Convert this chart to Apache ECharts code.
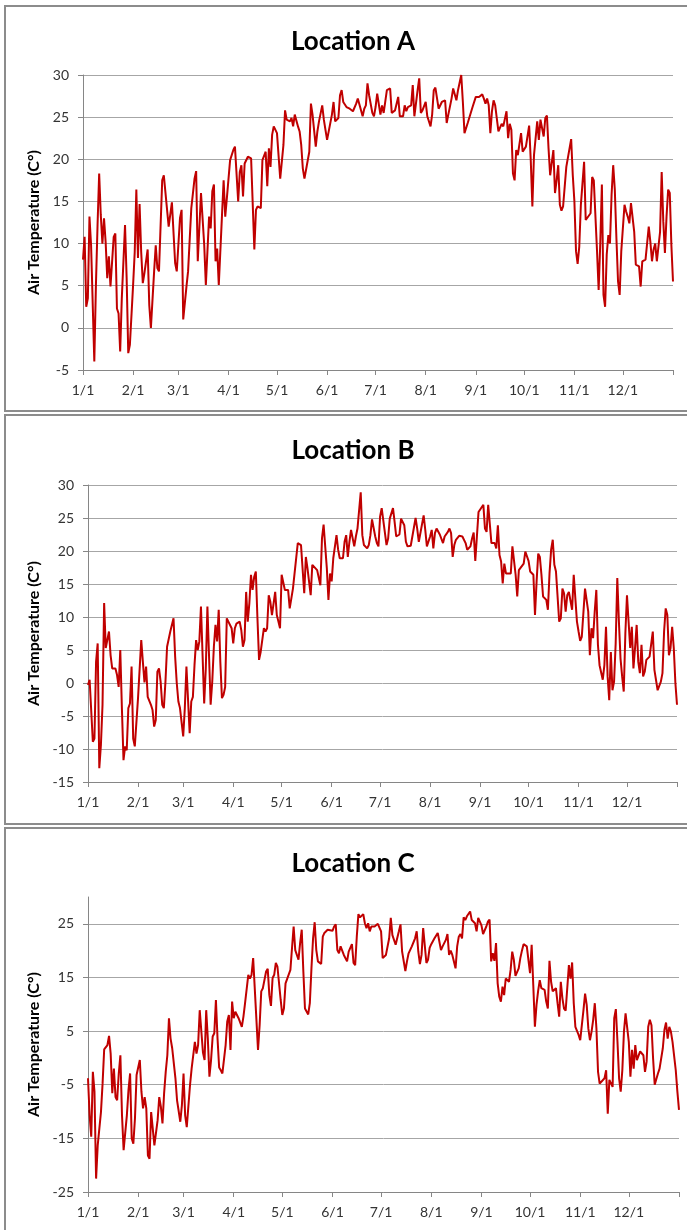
<!DOCTYPE html>
<html><head><meta charset="utf-8">
<script src="https://cdn.jsdelivr.net/npm/echarts@6/dist/echarts.min.js"></script>
<style>html,body{margin:0;padding:0;background:#fff}#c{width:687px;height:1230px}</style>
</head><body><div id="c"></div>
<script>
const monthLengths = [31,28,31,30,31,30,31,31,30,31,30,31];
const titles = ['Location A', 'Location B', 'Location C'];
const yAxisName = 'Air Temperature (C°)';
const yRanges = [[-5, 30, 5], [-15, 30, 5], [-25, 30, 10]];

// [day of year index, air temperature °C]
const locationA = [[0,8.1],[1,10.8],[2,2.5],[3,3.5],[4,13.2],[5,9.8],[7,-4],[8,5.1],[9,12.2],[10,18.3],[11,13.4],[12,10],[13,13],[14,10.2],[15,5.9],[16,8.5],[17,4.9],[19,10.8],[20,11.2],[21,2.3],[22,1.7],[23,-2.8],[24,3.5],[26,12.2],[27,5.9],[28,-3],[29,-2],[31,5.1],[32,9],[33,16.4],[34,8.3],[35,14.7],[36,9],[37,5.3],[38,6.5],[40,9.3],[41,2.7],[42,0],[44,6.7],[45,9.8],[46,7.1],[47,6.7],[49,17.5],[50,18.1],[51,17.9],[53,12],[54,11.8],[55,14.9],[57,7.7],[58,6.7],[59,6.7],[60,13],[61,14],[62,1],[64,4.9],[65,6.7],[67,14.2],[69,17.7],[70,18.6],[71,7.9],[72,7.9],[73,16],[75,9.8],[76,5.1],[78,13.2],[79,11.8],[80,16.2],[81,17],[82,7.9],[83,9.4],[84,5.1],[86,13.4],[87,17.5],[88,13.2],[89,15.4],[91,19.9],[93,21.1],[94,21.5],[96,15],[97,18.5],[98,19.3],[99,15.6],[100,19.5],[101,19.7],[102,20.3],[104,20.1],[106,9.3],[107,14],[108,14.4],[110,14.2],[111,19.9],[113,20.9],[114,16.8],[115,21.3],[116,19.1],[117,22.9],[118,23.9],[120,23.1],[121,22.9],[122,17.7],[124,21.7],[125,25.8],[126,24.7],[128,24.5],[129,24.9],[130,23.9],[131,25.3],[133,23.9],[134,23.3],[135,21.7],[136,18.9],[137,17.7],[138,17.7],[140,20.9],[141,26.6],[142,25.3],[144,21.5],[145,23.3],[146,24.5],[148,26.4],[149,24.7],[150,23.5],[151,22.3],[152,22.3],[154,25.3],[155,26.8],[156,24.5],[158,24.9],[159,27.6],[160,28.2],[161,26.8],[163,26.2],[165,26],[167,25.7],[169,26.6],[170,27.2],[171,27.2],[173,25.1],[174,26],[175,26.4],[176,29],[177,27.6],[179,25.5],[180,25.1],[181,26.2],[182,27.8],[184,25.3],[185,26.4],[186,25.5],[187,25.7],[188,28.2],[190,28.4],[191,25.5],[193,25.8],[194,26],[195,27.4],[196,25.1],[198,25.1],[199,26.4],[200,25.7],[201,26.2],[203,26.4],[204,28.8],[205,25.1],[207,28.2],[208,29.6],[209,25.5],[210,25.8],[212,26.8],[213,25.1],[215,23.9],[216,25.3],[217,28.2],[218,28.5],[220,26],[221,25.8],[222,26.8],[224,27],[225,24.3],[226,25.3],[228,27.2],[229,28.4],[231,27],[232,28.2],[234,30],[235,26.8],[236,23.1],[238,24.3],[239,24.5],[241,26.2],[243,27.4],[244,27.6],[245,27.4],[247,27.7],[248,27.2],[249,26.6],[250,27.2],[251,26.4],[252,23.1],[253,25.7],[254,27],[255,26.4],[257,23.3],[258,23.1],[259,24.2],[260,23.9],[262,25.7],[263,22.5],[264,24.2],[265,23.5],[266,18.3],[267,17.5],[268,21.1],[269,20.5],[271,23.1],[272,20.9],[273,20.9],[274,21.5],[276,24],[277,19.9],[278,14.4],[279,20.5],[281,24.5],[282,22.3],[283,24.7],[285,22.7],[286,24.9],[287,25.2],[288,21.3],[289,18.1],[290,18.3],[291,21.1],[292,16],[293,17.5],[294,19.3],[295,14.6],[296,13.9],[297,14.4],[299,19.1],[300,19.3],[302,22.4],[303,18.1],[304,15],[305,9.1],[306,7.6],[307,9.6],[308,14.6],[310,19.7],[311,12.8],[312,12.6],[314,13.6],[315,17.9],[316,17.5],[317,17.4],[318,9.1],[319,4.5],[320,10],[321,17],[322,3.9],[323,2.5],[324,8.7],[325,11],[326,10],[327,15.8],[328,19.3],[329,16.4],[330,10.6],[331,5.5],[332,3.9],[333,9.1],[335,14.6],[336,13.8],[337,13.2],[338,12.4],[339,14.8],[341,11.4],[342,7.5],[343,7.3],[344,7.3],[345,4.9],[346,7.9],[348,8.1],[349,8.3],[350,12],[351,10.2],[352,7.9],[353,9.3],[354,10],[355,7.9],[356,7.7],[357,11.4],[358,18.5],[359,12.6],[360,8.9],[361,13.2],[362,16.4],[363,16],[364,9.8],[365,5.5]];

const locationB = [[0,-0.3],[1,0.5],[2,0.6],[3,-8.9],[4,-8.4],[5,3.2],[6,6],[7,-12.9],[8,-9.4],[9,-3.3],[10,12.1],[11,5.3],[12,5.3],[13,7.8],[14,4.2],[15,2.2],[17,2.2],[18,1.2],[19,-0.6],[20,5],[21,-3.8],[22,-11.7],[23,-9.6],[24,-10.2],[25,-3.8],[26,-3.1],[27,2.5],[28,-8.4],[29,-9.6],[30,-9.6],[31,-2.3],[33,6.5],[34,3.2],[35,0.1],[36,2.5],[37,-2.1],[38,-1.8],[39,-3.3],[40,-4.1],[41,-6.6],[42,-5.6],[43,1.7],[44,2.2],[45,0.2],[46,-3.3],[47,-3.8],[48,0.2],[49,5.5],[50,5.5],[51,7.8],[53,9.8],[54,4],[55,0],[56,-2.8],[57,-3.8],[59,-8.1],[60,-3.8],[61,2.5],[63,-7.6],[64,-2.8],[65,-2.1],[66,2.7],[67,6.5],[68,5],[69,6.3],[70,11.6],[72,-3.1],[73,2.2],[74,11.6],[76,-3.3],[77,0.2],[78,5.5],[79,8.8],[80,6.3],[81,11.1],[82,3.2],[83,-2.3],[84,-1.8],[85,-0.6],[86,9.8],[87,9.5],[89,8.3],[90,6],[91,8.3],[92,9],[94,9.3],[95,8],[96,5.5],[97,6.5],[98,13.8],[99,9.3],[100,12.1],[101,16.4],[102,14.1],[103,16.1],[104,16.9],[105,9.8],[106,3.5],[107,4.7],[108,5],[109,8.3],[110,7.8],[111,8.3],[112,13.3],[113,12.3],[114,10.3],[116,13.8],[117,10.3],[118,9.3],[119,8.3],[120,16.4],[122,14.1],[123,13.8],[124,14.1],[125,11.3],[126,11.3],[127,14.3],[128,14.3],[130,21.2],[131,20.9],[132,20.9],[134,13.6],[135,19.1],[136,17.4],[138,13.3],[139,17.9],[140,17.6],[142,17.1],[143,16.9],[144,14.8],[145,21.9],[146,24],[148,17.4],[149,12.6],[150,16.6],[151,15.4],[152,18.9],[154,22.4],[155,20.2],[156,18.9],[158,18.9],[159,21.4],[160,22.4],[161,19.1],[162,21.4],[163,23.2],[165,20.7],[166,22.2],[167,23.4],[169,28.9],[170,22.4],[171,20.9],[173,20.4],[174,20.9],[175,22.4],[176,24.8],[178,22.2],[179,21.2],[180,20.7],[181,25.2],[182,26.5],[183,26.6],[185,20.9],[186,21.9],[187,24.9],[189,26.5],[190,24.4],[191,22.2],[193,22.5],[194,24.9],[196,23.9],[197,21.4],[198,20.7],[200,20.8],[201,20.9],[203,25],[204,23.4],[205,21.4],[206,21.7],[208,25.4],[209,23.2],[210,20.7],[211,20.7],[212,22.2],[213,23.2],[214,20.4],[215,22.7],[216,23.4],[218,22.5],[219,22.4],[220,21.2],[221,22.2],[223,22.9],[224,23.4],[225,22.7],[226,19.1],[227,20.9],[228,21.7],[229,21.4],[230,22.3],[232,22.2],[233,22.5],[234,21.2],[235,20.2],[237,20.7],[238,21.9],[239,22.8],[240,18.5],[241,22.2],[242,25.9],[243,26],[245,27],[246,23.4],[247,22.9],[248,27],[250,21.2],[251,20.9],[252,21.2],[253,20.4],[254,23.9],[255,19.4],[256,18.4],[257,15.1],[258,18.1],[259,16.6],[262,16.6],[263,20.7],[265,16.4],[266,13.1],[267,17.1],[268,17.1],[270,18.1],[271,19.9],[273,18.5],[274,16.9],[275,16.6],[276,16.4],[277,10.3],[278,15.4],[279,19.6],[280,19.1],[281,16.4],[282,13.1],[284,12.6],[285,11.1],[286,16.6],[287,20.2],[288,21.7],[289,17.9],[290,16.9],[291,16.9],[292,9.3],[293,9.8],[294,14.3],[295,13.6],[296,10.8],[297,13.3],[298,13.8],[299,13.8],[300,11.1],[301,16.4],[302,16.4],[303,9.3],[304,7.8],[305,6.4],[306,7],[308,14.3],[309,14.1],[310,10.8],[311,4.2],[312,8.3],[313,6.8],[314,10.8],[315,14.1],[316,5.8],[317,2.7],[319,0.5],[320,2.7],[321,8.5],[322,1],[323,-2.6],[324,4.7],[325,-1.1],[326,0.2],[327,6],[328,15.9],[329,9.3],[330,3.7],[331,1],[332,-1.3],[333,7.5],[334,13.3],[336,5.3],[337,8.5],[338,2.2],[339,5.3],[340,8.8],[341,3.2],[342,1.5],[343,5.8],[344,1],[345,1.7],[346,3.5],[348,4],[349,4],[350,7.8],[351,2],[352,1.7],[353,-1.1],[355,0.2],[356,1.5],[357,7.8],[358,11.3],[359,10.3],[360,4.2],[361,5.3],[362,8.5],[363,5.3],[364,0],[365,-3.3]];

const locationC = [[0,-3.8],[1,-10.7],[2,-14.7],[3,-2.6],[4,-6.3],[5,-22.5],[6,-16.3],[8,-10.1],[9,-4.8],[10,1.6],[11,1.8],[12,2.4],[13,4.1],[14,0.8],[15,-6.6],[16,-2],[17,-7.3],[18,-7.9],[19,-2.9],[20,0.5],[21,-10.7],[22,-17.2],[24,-10.7],[25,-6],[26,-2.9],[27,-15],[28,-16],[29,-11.3],[30,-3.2],[31,-3.2],[32,-0.4],[33,-6.3],[34,-9.4],[35,-7.3],[36,-9.4],[37,-18.2],[38,-18.8],[39,-10.1],[40,-10.4],[41,-16.3],[42,-16.3],[43,-11.6],[44,-7.3],[45,-9.1],[46,-12.2],[47,-6.6],[48,-2.6],[49,0.5],[50,7.4],[51,3.6],[52,1.8],[54,-3.8],[55,-7.9],[57,-11.9],[58,-8.8],[59,-2.9],[60,-10.7],[61,-12.9],[63,-5.1],[64,-2],[66,3],[67,0.8],[68,2.4],[69,8.9],[70,9.2],[71,1],[72,-0.4],[73,8.9],[74,3.6],[75,-3.5],[76,-0.4],[77,4],[78,4.6],[79,10.8],[80,3.6],[81,-1.8],[82,-2.3],[83,-2.9],[85,2.4],[86,6.8],[87,8],[88,1.5],[89,10.5],[90,7.4],[91,8.6],[92,8.9],[93,7.4],[95,5.8],[96,7.7],[97,10.2],[98,10.5],[99,15.5],[100,14.8],[101,15.5],[102,18.6],[105,1.5],[106,6.1],[107,12.4],[108,13],[109,13.3],[110,16.1],[111,16.6],[112,11.7],[113,9.7],[114,14.9],[115,15.5],[116,17.7],[117,17],[118,17],[119,10.8],[120,8],[121,9.2],[122,13.9],[123,14.2],[125,16.4],[126,20.5],[127,24.5],[128,20.1],[130,18.3],[131,21.4],[132,23.9],[133,16.1],[134,9.2],[135,9.2],[136,8.1],[137,10.2],[138,16.7],[139,22.3],[140,25.3],[141,20.1],[142,18],[144,17.5],[145,22.6],[146,23.3],[147,23.3],[148,23.9],[149,24.2],[151,23.7],[152,24.5],[153,24.9],[154,20.1],[155,19.5],[156,20.8],[158,19.2],[159,19.2],[160,18],[161,19.8],[163,21.2],[164,17.7],[165,17.3],[166,22.6],[167,26.8],[168,26.2],[170,26.8],[171,25.1],[172,24.2],[173,25.1],[174,23.6],[175,24.5],[176,24.2],[177,24.5],[179,25],[180,24.8],[181,23.6],[182,18.6],[184,19.2],[185,19.2],[186,22.3],[187,26.1],[188,22.9],[190,21.1],[191,20.8],[192,23.6],[193,24.9],[194,19.8],[196,16.2],[197,18],[198,19.5],[199,19.8],[200,20.8],[202,22.3],[203,23.6],[204,19.8],[205,17.5],[206,19.2],[207,24.2],[209,17.7],[210,18.3],[211,20.5],[212,21.2],[213,21.4],[214,22.3],[216,23.3],[217,21.7],[218,20.1],[219,20.8],[221,22],[222,23.1],[223,19.2],[224,20],[225,19.2],[226,19.5],[227,16.7],[228,20.8],[229,22.6],[230,23.1],[231,22.3],[232,26.2],[233,25.7],[234,26.4],[235,26.1],[236,27.3],[237,25.7],[239,25.1],[240,23.6],[241,26.1],[242,25.4],[243,24.7],[244,23.1],[245,23],[246,24.5],[247,25.4],[248,25.8],[249,18],[250,19.5],[251,18.1],[252,21.4],[253,13.9],[254,11.4],[255,10.5],[256,13.3],[257,11.7],[258,14.8],[260,14.2],[261,16.4],[262,19.8],[263,18.3],[264,15.3],[266,16.7],[267,18.6],[268,20],[269,21.2],[271,20.8],[272,20.8],[273,15.8],[274,21.1],[275,13.6],[276,5.8],[277,9.9],[278,12.5],[279,14.5],[280,13],[282,12.7],[283,10.5],[284,9.2],[285,18.1],[286,14.2],[287,12.4],[289,13],[290,10.2],[291,7.7],[292,14.2],[293,11.1],[294,9.2],[295,8.8],[296,8.6],[297,17.3],[298,14.8],[299,17.8],[300,10.2],[301,5.8],[302,5.8],[303,4.3],[304,3.3],[305,3.6],[306,8.9],[307,12],[308,9.9],[309,5.5],[310,3.3],[311,4.9],[312,7.1],[313,10.2],[314,5.5],[315,-2.6],[316,-4.8],[317,-5.1],[319,-3.8],[320,-2.3],[321,-10.4],[322,-4.1],[323,-4.1],[324,-5.4],[325,7.4],[326,9.1],[327,3],[328,-3.8],[329,-6.3],[330,-2.3],[331,4.9],[332,8.3],[334,3],[335,-3.5],[336,1.5],[337,-2],[338,2.4],[339,-0.4],[340,-0.7],[341,1.2],[342,1.2],[343,0.5],[344,-2.6],[345,-0.7],[346,5.8],[347,7.1],[348,6.1],[349,-0.1],[350,-5],[352,-2.9],[353,-2],[354,-1.8],[355,1.8],[356,5.2],[357,6.6],[358,3.6],[359,5.8],[360,4.9],[361,3],[363,-2.3],[364,-6.3],[365,-9.7]];

const seriesData = [locationA, locationB, locationC];

// daily category labels m/d, plus the closing 1/1 boundary
const dayLabels = [];
monthLengths.forEach((n, m) => { for (let d = 1; d <= n; d++) dayLabels.push((m + 1) + '/' + d); });
dayLabels.push('1/1');
const lastIdx = dayLabels.length - 1;

const grids = [
  { left: 83, top: 75, width: 590, height: 295 },
  { left: 88, top: 485, width: 589, height: 297 },
  { left: 88, top: 897, width: 591, height: 295 }
];
const titleTops = [24, 433, 846];
const frames = [[5, 6, 405], [5, 415, 409], [5, 828, 420]];

const font = 'Lato, "Open Sans", sans-serif';
const chart = echarts.init(document.getElementById('c'), null, { renderer: 'canvas' });

const option = {
  animation: false,
  backgroundColor: '#fff',
  title: titles.map((t, i) => ({
    text: t, left: 348, top: titleTops[i], textAlign: 'center',
    textStyle: { fontFamily: font, fontWeight: 'bold', fontSize: 26, color: '#000' }
  })),
  graphic: frames.map(f => ({
    type: 'rect', shape: { x: f[0], y: f[1], width: 700, height: f[2] },
    style: { fill: 'none', stroke: '#8c8c8c', lineWidth: 2 }, silent: true
  })),
  grid: grids,
  xAxis: grids.map((g, i) => ({
    type: 'category', gridIndex: i, data: dayLabels, boundaryGap: false,
    axisLine: { onZero: false, lineStyle: { color: '#868686', width: 1 } },
    axisTick: { show: true, length: 5, lineStyle: { color: '#868686' },
      interval: (idx, val) => val.endsWith('/1') },
    axisLabel: { margin: 13, fontFamily: font, fontSize: 14, color: '#333',
      interval: (idx, val) => idx < lastIdx && val.endsWith('/1') },
    splitLine: { show: false }
  })),
  yAxis: grids.map((g, i) => ({
    type: 'value', gridIndex: i, min: yRanges[i][0], max: yRanges[i][1], interval: yRanges[i][2],
    name: yAxisName, nameLocation: 'middle', nameGap: 39,
    nameTextStyle: { fontFamily: font, fontWeight: 'bold', fontSize: 16, color: '#000' },
    axisLine: { show: true, onZero: false, lineStyle: { color: '#868686', width: 1 } },
    axisTick: { show: true, length: 5, lineStyle: { color: '#868686' } },
    axisLabel: { margin: 14, fontFamily: font, fontSize: 14, color: '#333', showMaxLabel: i < 2 },
    splitLine: { show: true, showMaxLine: i < 2, lineStyle: { color: '#a6a6a6', width: 1 } }
  })),
  series: seriesData.map((d, i) => ({
    type: 'line', xAxisIndex: i, yAxisIndex: i, data: d,
    showSymbol: false, symbol: 'none',
    lineStyle: { color: '#c00000', width: 2 }, itemStyle: { color: '#c00000' }
  }))
};
chart.setOption(option);
</script></body></html>
